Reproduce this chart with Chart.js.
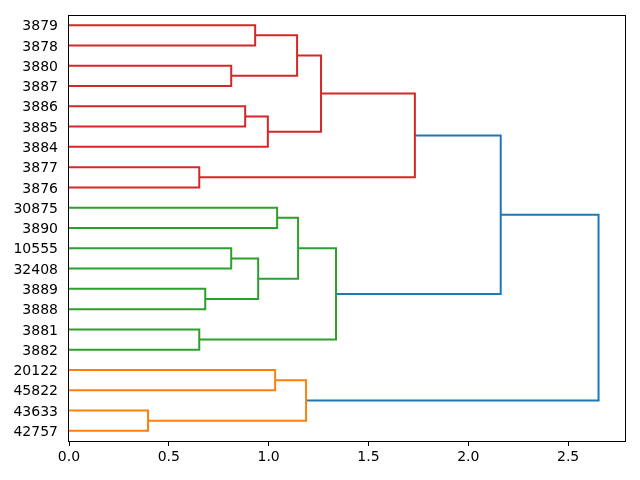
<!DOCTYPE html>
<html>
<head>
<meta charset="utf-8">
<script src="https://cdn.jsdelivr.net/npm/chart.js@4/dist/chart.umd.min.js"></script>
<style>
  html, body { margin: 0; padding: 0; background: #fff; }
  #wrap { width: 640px; height: 480px; }
</style>
</head>
<body>
<div id="wrap"><canvas id="dendro" width="640" height="480"></canvas></div>
<script>
// Leaves, top to bottom
const leafLabels = ['3879', '3878', '3880', '3887', '3886', '3885', '3884', '3877', '3876',
  '30875', '3890', '10555', '32408', '3889', '3888', '3881', '3882',
  '20122', '45822', '43633', '42757'];

// Merges (id = leaves + index), left child, right child, distance, cluster
const mergeLeft   = [19, 7, 15, 13, 2, 11, 4, 0, 26, 27, 17, 9, 28, 32, 31, 33, 34, 36, 38, 39];
const mergeRight  = [20, 8, 16, 14, 3, 12, 5, 1, 24, 6, 18, 10, 25, 29, 21, 30, 23, 22, 37, 35];
const mergeHeight = [0.396, 0.6525, 0.6525, 0.6825, 0.8125, 0.8125, 0.8825, 0.9325, 0.9475, 0.996,
  1.0325, 1.0425, 1.1425, 1.1475, 1.1875, 1.2625, 1.3375, 1.7325, 2.1625, 2.6525];
const mergeCluster = ['C', 'A', 'B', 'B', 'A', 'B', 'A', 'A', 'B', 'A',
  'C', 'B', 'A', 'B', 'C', 'A', 'B', 'A', 'root', 'root'];

const xTicks = [0, 0.5, 1.0, 1.5, 2.0, 2.5];

const clusterColors = { A: '#d62728', B: '#2ca02c', C: '#ff7f0e', root: '#1f77b4' };
const n = leafLabels.length;

// position of each node on the leaf axis, and its height
const nodePos = [];
const nodeHeight = [];
leafLabels.forEach((_, i) => { nodePos[i] = (n - i) * 10 - 5; nodeHeight[i] = 0; });
mergeLeft.forEach((l, k) => {
  const r = mergeRight[k];
  nodePos[n + k] = (nodePos[l] + nodePos[r]) / 2;
  nodeHeight[n + k] = mergeHeight[k];
});

const datasets = mergeLeft.map((l, k) => {
  const r = mergeRight[k];
  const h = mergeHeight[k];
  return {
    data: [
      { x: nodeHeight[l], y: nodePos[l] },
      { x: h, y: nodePos[l] },
      { x: h, y: nodePos[r] },
      { x: nodeHeight[r], y: nodePos[r] }
    ],
    borderColor: clusterColors[mergeCluster[k]],
    borderWidth: 2,
    showLine: true,
    pointRadius: 0,
    fill: false,
    tension: 0
  };
});

// full box around the plot area
const frame = {
  id: 'frame',
  afterDraw(chart) {
    const a = chart.chartArea;
    const ctx = chart.ctx;
    ctx.save();
    ctx.strokeStyle = '#000';
    ctx.lineWidth = 1;
    ctx.strokeRect(Math.round(a.left) - 0.5, Math.round(a.top) + 0.5,
      Math.round(a.right - a.left) + 1, Math.round(a.bottom - a.top));
    ctx.restore();
  }
};

const fontSpec = { family: 'DejaVu Sans', size: 14 };

new Chart(document.getElementById('dendro'), {
  type: 'scatter',
  data: { datasets },
  options: {
    responsive: false,
    animation: false,
    layout: { padding: { left: 0, top: 15, right: 15, bottom: 0 } },
    plugins: { legend: { display: false }, tooltip: { enabled: false } },
    scales: {
      x: {
        type: 'linear',
        min: 0,
        max: 2.785,
        grid: { drawOnChartArea: false, drawTicks: true, tickLength: 5, color: '#000' },
        border: { display: false },
        afterBuildTicks: (scale) => { scale.ticks = xTicks.map(v => ({ value: v })); },
        afterFit: (scale) => { scale.height = 39; scale.paddingLeft = 0; scale.paddingRight = 0; },
        ticks: {
          color: '#000',
          font: fontSpec,
          padding: 3,
          maxRotation: 0,
          callback: (v) => Number(v).toFixed(1)
        }
      },
      y: {
        type: 'linear',
        min: 0,
        max: n * 10,
        grid: { display: false, drawTicks: false, tickLength: 0 },
        border: { display: false },
        afterBuildTicks: (scale) => { scale.ticks = leafLabels.map((_, i) => ({ value: (n - i) * 10 - 5 })); },
        afterFit: (scale) => { scale.width = 69; scale.paddingTop = 0; scale.paddingBottom = 0; },
        ticks: {
          color: '#000',
          font: fontSpec,
          padding: 11,
          labelOffset: 1.5,
          autoSkip: false,
          callback: (v) => leafLabels[n - 1 - Math.round((v - 5) / 10)]
        }
      }
    }
  },
  plugins: [frame]
});
</script>
</body>
</html>
